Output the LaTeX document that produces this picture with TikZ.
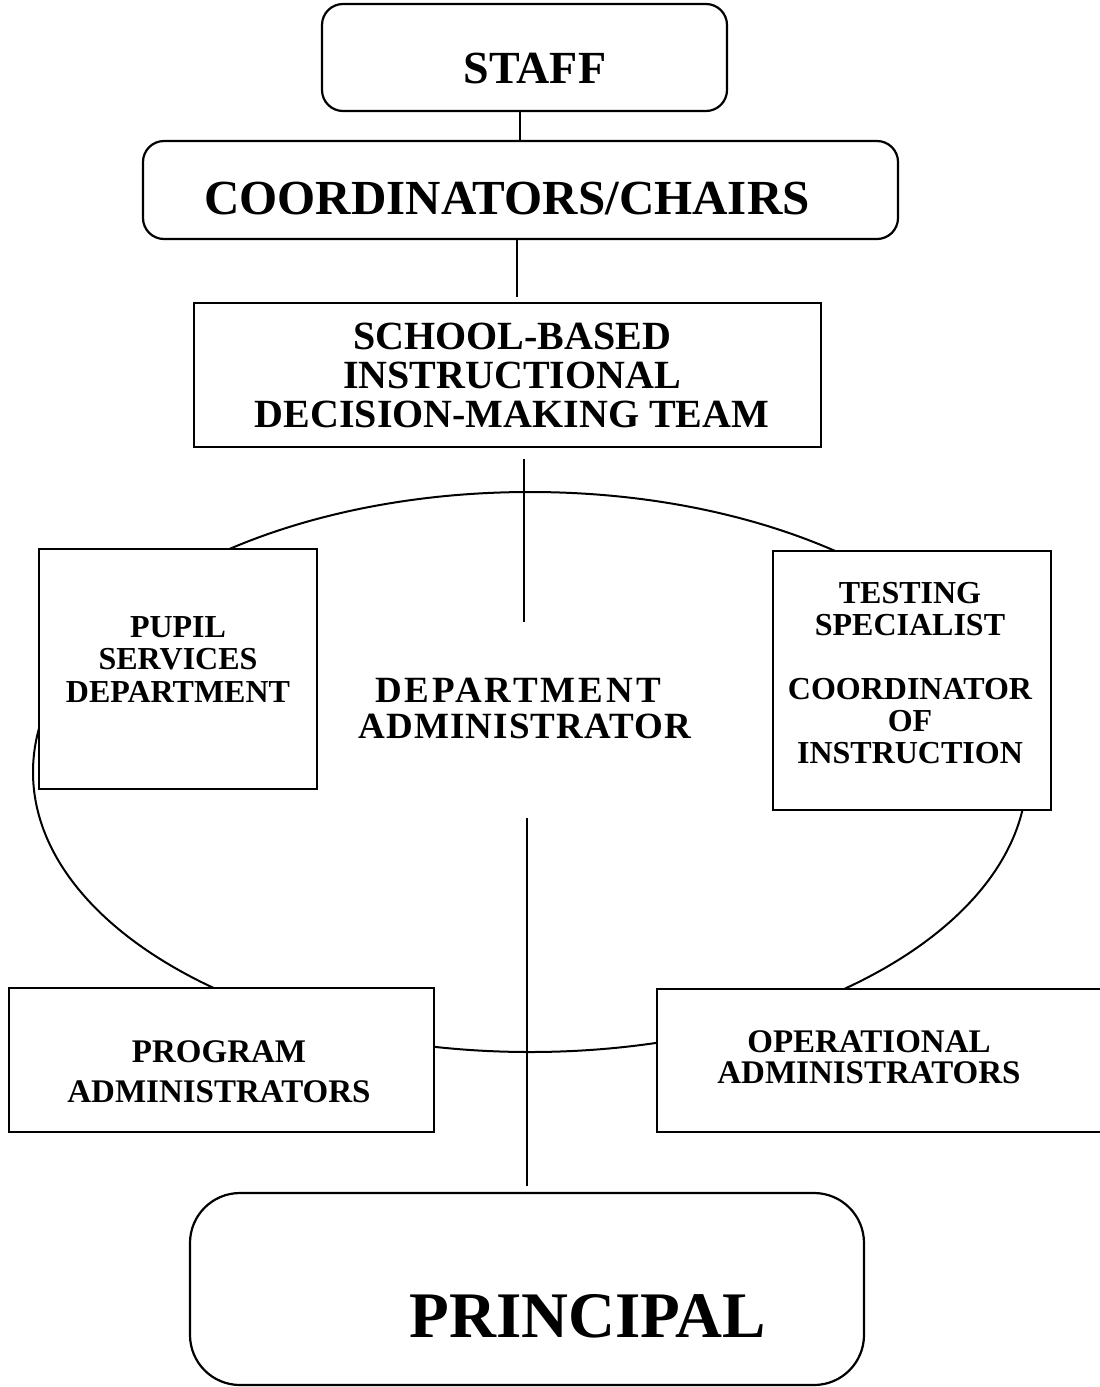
\documentclass[tikz,border=0pt]{standalone}
\usepackage{fontspec}
\setmainfont{Liberation Serif}
\begin{document}
\begin{tikzpicture}[x=0.5pt,y=-0.5pt,
  box/.style={draw, line width=1.1pt, fill=white, inner sep=0pt},
  rbox/.style={box, rounded corners=10.5pt},
  lbl/.style={inner sep=0pt, align=center},
  conn/.style={line width=1pt}]
\useasboundingbox (0,0) rectangle (1099,1387);

% ring behind everything
\draw[line width=1pt] (530,772) ellipse [x radius=248.5pt, y radius=140pt];

% coordinates for the vertical rules
\coordinate (xa) at (519.5,0);
\coordinate (xb) at (517,0);
\coordinate (xc) at (524,0);
\coordinate (ce) at (524,622);
\coordinate (xd) at (527,818);

% boxes
\node[rbox, minimum width=202.5pt, minimum height=53.5pt] (staff) at (524.5,57.5) {};
\node[rbox, minimum width=377.5pt, minimum height=49pt] (coord) at (520.5,190) {};
\node[box, minimum width=313.5pt, minimum height=72pt] (sbdm) at (507.5,375) {};
\node[box, minimum width=139pt, minimum height=120pt] (pupil) at (178,669) {};
\node[box, minimum width=139pt, minimum height=129.5pt] (test) at (912,680.5) {};
\node[box, minimum width=212.5pt, minimum height=72pt] (prog) at (221.5,1060) {};
\node[box, minimum width=226.5pt, minimum height=71.5pt] (oper) at (883.5,1060.5) {};
\node[box, rounded corners=25pt, minimum width=337pt, minimum height=96pt] (princ) at (527,1289) {};

% connectors
\draw[conn] (xa |- staff.south) -- (xa |- coord.north);
\draw[conn, shorten >=2.5pt] (xb |- coord.south) -- (xb |- sbdm.north);
\draw[conn, shorten <=5.5pt] (xc |- sbdm.south) -- (ce);
\draw[conn, shorten >=3pt] (xd) -- (xd |- princ.north);

% texts
\node[lbl, anchor=base, font=\fontsize{23}{23}\selectfont\bfseries] (staffT) at (535,83) {STAFF};
\node[lbl, anchor=base, font=\fontsize{24.5}{24.5}\selectfont\bfseries] (coordT) at (507,214) {COORDINATORS/CHAIRS};
\node[lbl, anchor=north, font=\fontsize{20}{19.5}\selectfont\bfseries] (sbdmT) at (512,323) {SCHOOL-BASED\\INSTRUCTIONAL\\DECISION-MAKING TEAM};
\node[lbl, anchor=north, font=\fontsize{16}{16.25}\selectfont\bfseries] (pupilT) at (178,616) {PUPIL\\SERVICES\\DEPARTMENT};
\node[lbl, anchor=north, font=\fontsize{16}{16}\selectfont\bfseries] (testT) at (910,582) {TESTING\\SPECIALIST\\[16pt]COORDINATOR\\OF\\INSTRUCTION};
\node[lbl, anchor=base, font=\fontsize{18.5}{18}\selectfont\bfseries\addfontfeature{LetterSpace=8}] (deptA) at (518,702) {DEPARTMENT};
\node[lbl, anchor=base, font=\fontsize{18.5}{18}\selectfont\bfseries\addfontfeature{LetterSpace=3}] (deptB) at (525,738) {ADMINISTRATOR};
\node[lbl, anchor=north, font=\fontsize{16.5}{20}\selectfont\bfseries] (progT) at (219,1040) {PROGRAM\\ADMINISTRATORS};
\node[lbl, anchor=north, font=\fontsize{16.5}{15.5}\selectfont\bfseries] (operT) at (869,1030) {OPERATIONAL\\ADMINISTRATORS};
\node[lbl, anchor=base, font=\fontsize{32.5}{32.5}\selectfont\bfseries] (princT) at (588,1337) {PRINCIPAL};
\end{tikzpicture}
\end{document}
